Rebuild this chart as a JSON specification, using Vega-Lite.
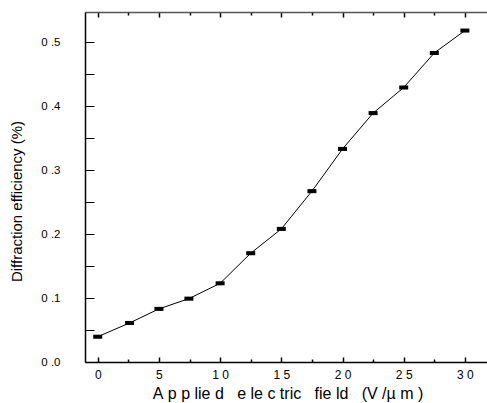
{
  "$schema": "https://vega.github.io/schema/vega-lite/v6.json",
  "width": 405,
  "height": 350,
  "autosize": {"type": "none"},
  "padding": {"left": 85, "top": 12, "right": 0, "bottom": 41},
  "background": "white",
  "config": {"view": {"stroke": null}, "font": "Liberation Sans"},
  "data": {"values": [
    {"field": 0, "eff": 0.0395},
    {"field": 2.6, "eff": 0.061},
    {"field": 5, "eff": 0.083},
    {"field": 7.45, "eff": 0.099},
    {"field": 10, "eff": 0.123},
    {"field": 12.5, "eff": 0.170},
    {"field": 15, "eff": 0.208},
    {"field": 17.5, "eff": 0.267},
    {"field": 20, "eff": 0.333},
    {"field": 22.5, "eff": 0.389},
    {"field": 25, "eff": 0.429},
    {"field": 27.5, "eff": 0.483},
    {"field": 30, "eff": 0.518}
  ]},
  "resolve": {"axis": {"x": "independent", "y": "independent"}},
  "layer": [
    {
      "mark": {"type": "line", "color": "black", "strokeWidth": 1},
      "encoding": {
        "x": {"field": "field", "type": "quantitative",
          "scale": {"domain": [-1.04, 32.05], "nice": false, "zero": false},
          "axis": {"orient": "bottom", "values": [0,2.5,5,7.5,10,12.5,15,17.5,20,22.5,25,27.5,30],
            "grid": false, "domainColor": "black", "domainWidth": 1.5, "tickColor": "black", "tickWidth": 1.5,
            "tickSize": {"condition": {"test": "datum.value % 5 === 0", "value": -5}, "value": -3},
            "labelExpr": "datum.value % 5 === 0 ? join(split(format(datum.value,'d'),''),'\u00a0') : ''",
            "labelFontSize": 12, "labelColor": "black", "labelPadding": 12,
            "title": "A\u00a0p\u00a0p\u00a0lie\u00a0d\u00a0\u00a0\u00a0e\u00a0le\u00a0c\u00a0tric\u00a0\u00a0\u00a0fie\u00a0ld\u00a0\u00a0\u00a0(V\u00a0/µ\u00a0m\u00a0)",
            "titleFontSize": 16, "titleFontWeight": "normal", "titleColor": "black", "titlePadding": 5}},
        "y": {"field": "eff", "type": "quantitative",
          "scale": {"domain": [0, 0.547], "nice": false},
          "axis": {"orient": "left", "values": [0,0.05,0.1,0.15,0.2,0.25,0.3,0.35,0.4,0.45,0.5],
            "grid": false, "domainColor": "black", "domainWidth": 1.5, "tickColor": "black", "tickWidth": 1,
            "tickSize": -9,
            "labelExpr": "abs(datum.value*10 - round(datum.value*10)) < 0.01 ? replace(format(datum.value,'.1f'), '.', '\u00a0.') : ''",
            "labelFontSize": 11.5, "labelColor": "black", "labelPadding": 34,
            "title": "Diffraction efficiency (%)", "titleY": 189,
            "titleFontSize": 15, "titleFontWeight": "normal", "titleColor": "black", "titlePadding": 16}}
      }
    },
    {
      "mark": {"type": "point", "shape": "M-1,-0.45L1,-0.45L1,0.45L-1,0.45Z", "filled": true, "color": "black", "opacity": 1, "size": 81},
      "encoding": {
        "x": {"field": "field", "type": "quantitative", "axis": null},
        "y": {"field": "eff", "type": "quantitative", "axis": null}
      }
    },
    {
      "mark": {"type": "point", "opacity": 0},
      "encoding": {
        "x": {"field": "field", "type": "quantitative",
          "axis": {"orient": "top", "values": [0,2.5,5,7.5,10,12.5,15,17.5,20,22.5,25,27.5,30],
            "grid": false, "labels": false, "title": null, "domainColor": "#555555", "domainWidth": 1.5,
            "tickColor": "black", "tickWidth": 1.5,
            "tickSize": {"condition": {"test": "datum.value % 5 === 0", "value": -5}, "value": -3}}},
        "y": {"field": "eff", "type": "quantitative",
          "axis": {"orient": "right", "values": [0,0.05,0.1,0.15,0.2,0.25,0.3,0.35,0.4,0.45,0.5],
            "grid": false, "labels": false, "title": null, "domain": false,
            "tickColor": "#dddddd", "tickSize": -3}}
      }
    }
  ]
}
